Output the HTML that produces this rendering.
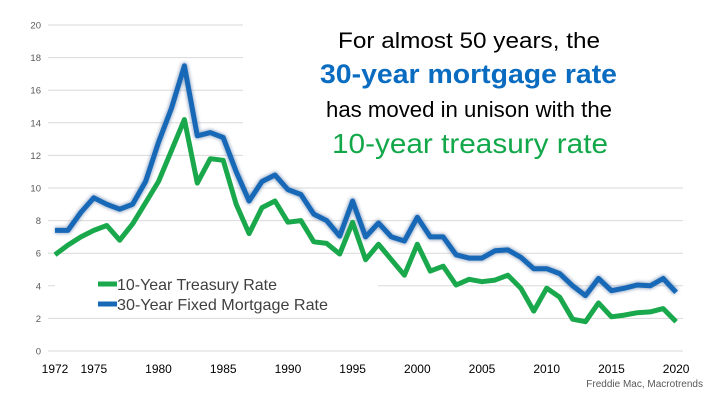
<!DOCTYPE html>
<html><head><meta charset="utf-8"><style>
html,body{margin:0;padding:0;background:#fff;}
svg{display:block;font-family:"Liberation Sans",sans-serif;}
</style></head><body>
<svg id="s" width="720" height="405" viewBox="0 0 720 405" xmlns="http://www.w3.org/2000/svg">
<defs><filter id="sh" x="-5%" y="-5%" width="110%" height="110%"><feGaussianBlur stdDeviation="1.6"/></filter></defs>
<g id="grid" stroke="#d9d9d9" stroke-width="1"></g>
<g id="yl" font-size="9.5" fill="#595959" text-anchor="end"></g>
<g id="xl" font-size="12" fill="#000" text-anchor="middle"></g>
<rect x="243" y="0" width="477" height="172" fill="#fff"/>
<rect x="55" y="272" width="323" height="38" fill="#fff"/>
<g id="lines"></g>
<line x1="98" y1="284" x2="117" y2="284" stroke="#19a84b" stroke-width="5"/>
<line x1="98" y1="304" x2="117" y2="304" stroke="#1769b8" stroke-width="5"/>
<text x="117" y="290" font-size="16" fill="#404040" textLength="160" lengthAdjust="spacingAndGlyphs">10-Year Treasury Rate</text>
<text x="117" y="310" font-size="16" fill="#404040" textLength="211" lengthAdjust="spacingAndGlyphs">30-Year Fixed Mortgage Rate</text>
<text x="338" y="48" font-size="22" fill="#000" textLength="262" lengthAdjust="spacingAndGlyphs">For almost 50 years, the</text>
<text x="320" y="83" font-size="27" font-weight="bold" fill="#0a6cc0" textLength="297" lengthAdjust="spacingAndGlyphs">30-year mortgage rate</text>
<text x="326" y="117" font-size="22" fill="#000" textLength="286" lengthAdjust="spacingAndGlyphs">has moved in unison with the</text>
<text x="332" y="153" font-size="28" fill="#12a84a" textLength="276" lengthAdjust="spacingAndGlyphs">10-year treasury rate</text>
<text x="703" y="387" font-size="10" fill="#595959" text-anchor="end">Freddie Mac, Macrotrends</text>
</svg>
<script>
var NS="http://www.w3.org/2000/svg";
function el(p,t,a){var e=document.createElementNS(NS,t);for(var k in a)e.setAttribute(k,a[k]);p.appendChild(e);return e;}
var X=function(y){return 55+(y-1972)*12.94;},Y=function(v){return 351-v*16.3;};
var g=document.getElementById('grid'),yl=document.getElementById('yl'),xl=document.getElementById('xl');
for(var v=0;v<=20;v+=2){el(g,'line',{x1:48,x2:683,y1:Y(v),y2:Y(v)});var t=el(yl,'text',{x:41,y:Y(v)+3.5});t.textContent=v;}
[1972,1975,1980,1985,1990,1995,2000,2005,2010,2015,2020].forEach(function(y){var t=el(xl,'text',{x:X(y),y:373});t.textContent=y;});
var tr=[5.9,6.5,7.0,7.4,7.7,6.8,7.8,9.1,10.4,12.3,14.2,10.3,11.8,11.7,9.0,7.2,8.8,9.2,7.9,8.0,6.7,6.6,5.95,7.9,5.6,6.55,5.6,4.65,6.55,4.9,5.2,4.05,4.4,4.25,4.35,4.65,3.85,2.45,3.85,3.3,1.95,1.8,2.95,2.1,2.2,2.35,2.4,2.6,1.8];
var mo=[7.4,7.4,8.5,9.4,9.0,8.7,9.0,10.4,12.8,14.9,17.5,13.2,13.4,13.1,11.0,9.2,10.4,10.8,9.9,9.6,8.4,8.0,7.05,9.2,7.0,7.85,7.0,6.75,8.2,7.0,7.0,5.9,5.7,5.7,6.15,6.2,5.75,5.05,5.05,4.75,4.0,3.4,4.45,3.7,3.85,4.05,4.0,4.45,3.6];
function pts(a){return a.map(function(v,i){return X(1972+i).toFixed(1)+','+Y(v).toFixed(1);}).join(' ');}
var L=document.getElementById('lines');
el(L,'polyline',{points:pts(tr),fill:'none',stroke:'#19a84b','stroke-width':5,'stroke-linejoin':'round'});
el(L,'polyline',{points:pts(mo),fill:'none',stroke:'#7a93b5','stroke-width':7,'stroke-linejoin':'round',filter:'url(#sh)',opacity:0.7});
el(L,'polyline',{points:pts(mo),fill:'none',stroke:'#1769b8','stroke-width':5,'stroke-linejoin':'round'});
</script>
</body></html>
